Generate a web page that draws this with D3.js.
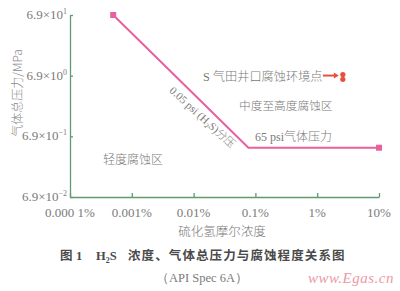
<!DOCTYPE html>
<html>
<head>
<meta charset="utf-8">
<script src="https://cdn.jsdelivr.net/npm/d3@7"></script>
<style>
  html, body { margin: 0; padding: 0; background: #fff; }
  svg { display: block; }
</style>
</head>
<body>
<svg id="chart" width="400" height="291"></svg>
<script>
// H2S mole fraction (%) on x, total gas pressure (MPa) on y
const xTicks = [0.0001, 0.001, 0.01, 0.1, 1, 10];
const xTickLabels = ["0.000 1%", "0.001%", "0.01%", "0.1%", "1%", "10%"];
const yTicks = [69, 6.9, 0.69, 0.069];
const yTickMant = ["6.9", "6.9", "6.9", "6.9"];
const yTickExp = ["1", "0", "\u22121", "\u22122"];

// Boundary: 0.05 psi H2S partial pressure line, then 65 psi total pressure line
const boundaryX = [0.0005, 0.077, 10];
const boundaryY = [69, 0.448, 0.448];

// Wellhead corrosion environment points of the S gas field
const fieldX = [2.6, 2.6];
const fieldY = [7.2, 6.0];

const svg = d3.select("#chart");
const axisColor = "#5f9a72";
const lineColor = "#e8609f";
const textColor = "#7a7a7a";
const serif = "'Liberation Serif', 'DejaVu Serif', serif";
const cjk = "'Noto Sans CJK SC', sans-serif";

const x = d3.scaleLog().domain([0.0001, 10]).range([70, 379]);
const y = d3.scaleLog().domain([0.069, 69]).range([197, 15]);

// Axes with inward ticks
const xAxis = d3.axisBottom(x).tickValues(xTicks).tickSizeInner(-4).tickSizeOuter(0).tickFormat("");
const yAxis = d3.axisLeft(y).tickValues(yTicks).tickSizeInner(-3).tickSizeOuter(0).tickFormat("");

const gx = svg.append("g").attr("transform", "translate(0,197)").call(xAxis);
const gy = svg.append("g").attr("transform", "translate(70,0)").call(yAxis);
[gx, gy].forEach(g => {
  g.selectAll("path, line").attr("stroke", axisColor).attr("stroke-width", 1.3);
});

// X tick labels
svg.append("g").selectAll("text").data(xTicks).join("text")
  .attr("x", d => x(d))
  .attr("y", 217)
  .attr("text-anchor", "middle")
  .attr("font-family", serif)
  .attr("font-size", 13)
  .attr("fill", textColor)
  .text((d, i) => xTickLabels[i]);

// Y tick labels with exponent superscripts
const yl = svg.append("g").selectAll("text").data(yTicks).join("text")
  .attr("x", 67)
  .attr("y", d => y(d) + 4)
  .attr("text-anchor", "end")
  .attr("font-family", serif)
  .attr("font-size", 13)
  .attr("fill", textColor);
yl.append("tspan").text((d, i) => yTickMant[i] + "\u00d710");
yl.append("tspan").attr("dy", -5).attr("font-size", 8).text((d, i) => yTickExp[i]);

// Axis titles
svg.append("text")
  .attr("transform", "translate(22,93) rotate(-90)")
  .attr("text-anchor", "middle")
  .attr("font-family", cjk)
  .attr("font-weight", 300)
  .attr("font-size", 12)
  .attr("fill", "#8a8a8a")
  .text("\u6c14\u4f53\u603b\u538b\u529b/MPa");

svg.append("text")
  .attr("x", 222).attr("y", 236)
  .attr("text-anchor", "middle")
  .attr("font-family", cjk)
  .attr("font-weight", 300)
  .attr("font-size", 12.5)
  .attr("fill", textColor)
  .text("\u786b\u5316\u6c22\u6469\u5c14\u6d53\u5ea6");

// Boundary line
const pts = boundaryX.map((v, i) => [v, boundaryY[i]]);
svg.append("path")
  .datum(pts)
  .attr("fill", "none")
  .attr("stroke", lineColor)
  .attr("stroke-width", 2)
  .attr("d", d3.line().x(d => x(d[0])).y(d => y(d[1])));

// Square end markers
svg.append("g").selectAll("rect").data([pts[0], pts[pts.length - 1]]).join("rect")
  .attr("x", d => x(d[0]) - 3)
  .attr("y", d => y(d[1]) - 3)
  .attr("width", 6).attr("height", 6)
  .attr("fill", lineColor);

// Field points and pointer arrow
const red = "#e8503e";
svg.append("g").selectAll("circle").data(fieldX.map((v, i) => [v, fieldY[i]])).join("circle")
  .attr("cx", d => x(d[0]))
  .attr("cy", d => y(d[1]))
  .attr("r", 2.6)
  .attr("fill", red);
const ax = x(fieldX[0]) - 4, ay = y(fieldY[0]) + 1;
svg.append("line")
  .attr("x1", ax - 16).attr("y1", ay).attr("x2", ax - 4).attr("y2", ay)
  .attr("stroke", red).attr("stroke-width", 2);
svg.append("path")
  .attr("d", `M${ax},${ay} L${ax - 5},${ay - 3} L${ax - 5},${ay + 3} Z`)
  .attr("fill", red);

// Region and line annotations
function note(tx, ty, parts, size) {
  const t = svg.append("text")
    .attr("x", tx).attr("y", ty)
    .attr("font-size", size || 12)
    .attr("fill", textColor);
  parts.forEach(p => {
    t.append("tspan")
      .attr("font-family", p.latin ? serif : cjk)
      .attr("font-weight", p.latin ? 400 : 300)
      .text(p.s);
  });
  return t;
}
note(203, 81, [{ s: "S ", latin: true }, { s: "\u6c14\u7530\u4e95\u53e3\u8150\u8680\u73af\u5883\u70b9" }], 12.2);
note(239, 110, [{ s: "\u4e2d\u5ea6\u81f3\u9ad8\u5ea6\u8150\u8680\u533a" }], 11.7);
note(255, 141, [{ s: "65 psi", latin: true }, { s: "\u6c14\u4f53\u538b\u529b" }], 12);
note(103, 164, [{ s: "\u8f7b\u5ea6\u8150\u8680\u533a" }], 12);

// Rotated label along the partial-pressure line
const rot = svg.append("text")
  .attr("transform", "translate(200,120) rotate(42.5)")
  .attr("text-anchor", "middle")
  .attr("font-size", 11)
  .attr("fill", textColor);
rot.append("tspan").attr("font-family", serif).text("0.05 psi (H");
rot.append("tspan").attr("font-family", serif).attr("font-size", 7).attr("dy", 2).text("2");
rot.append("tspan").attr("font-family", serif).attr("dy", -2).text("S)");
rot.append("tspan").attr("font-family", cjk).attr("font-weight", 300).text("\u5206\u538b");

// Figure caption
const cap = svg.append("text")
  .attr("y", 260)
  .attr("font-size", 12.5)
  .attr("font-weight", 700)
  .attr("fill", "#4a4a4a");
cap.append("tspan").attr("x", 60).attr("font-family", cjk).text("\u56fe");
cap.append("tspan").attr("x", 76).attr("font-family", serif).text("1");
cap.append("tspan").attr("x", 96).attr("font-family", serif).text("H");
cap.append("tspan").attr("font-family", serif).attr("font-size", 8).attr("dy", 3).text("2");
cap.append("tspan").attr("font-family", serif).attr("dy", -3).text("S");
cap.append("tspan").attr("x", 128).attr("font-family", cjk).attr("letter-spacing", 1.1)
  .text("\u6d53\u5ea6\u3001\u6c14\u4f53\u603b\u538b\u529b\u4e0e\u8150\u8680\u7a0b\u5ea6\u5173\u7cfb\u56fe");

svg.append("text")
  .attr("x", 202).attr("y", 282)
  .attr("text-anchor", "middle")
  .attr("font-family", serif)
  .attr("font-size", 12.5)
  .attr("fill", textColor)
  .text("\uff08API Spec 6A\uff09");

// Site mark
svg.append("text")
  .attr("x", 394).attr("y", 283)
  .attr("text-anchor", "end")
  .attr("font-family", serif)
  .attr("font-style", "italic")
  .attr("font-size", 15)
  .attr("fill", "#ec9aa6")
  .attr("letter-spacing", 0.5)
  .text("www.Egas.cn");
</script>
</body>
</html>
